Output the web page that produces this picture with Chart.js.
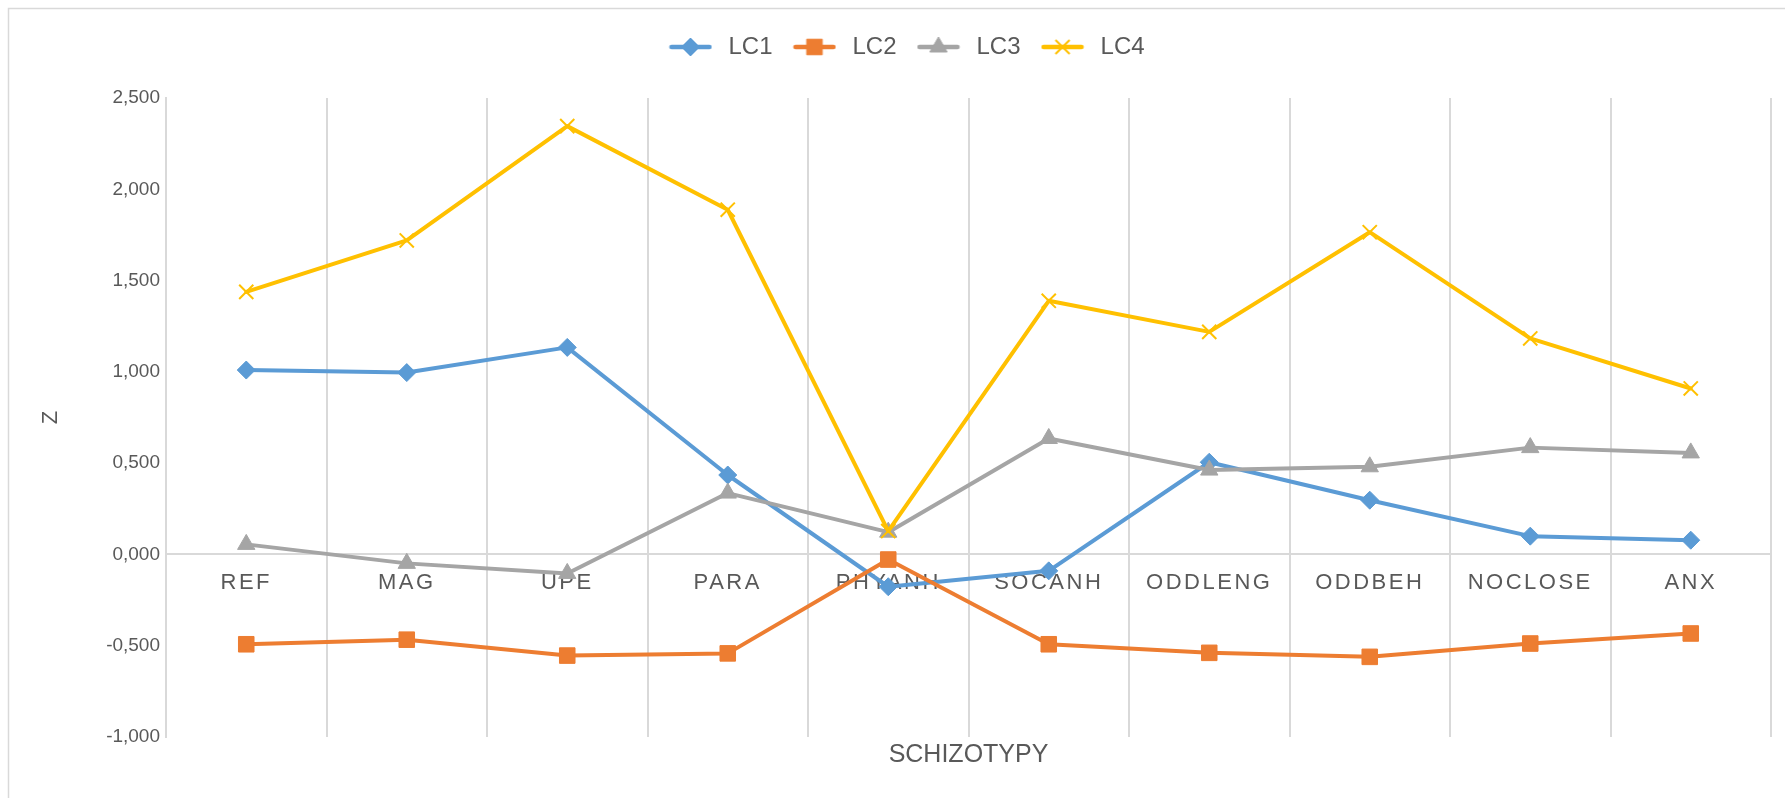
<!DOCTYPE html>
<html><head><meta charset="utf-8">
<script src="https://cdn.jsdelivr.net/npm/chart.js@4/dist/chart.umd.min.js"></script>
<style>html,body{margin:0;padding:0;background:#fff}#wrap{width:1785px;height:798px;position:relative}</style>
</head><body><div id="wrap"><canvas id="c" width="1785" height="798"></canvas></div>
<script>
const categories = ['REF','MAG','UPE','PARA','PHYANH','SOCANH','ODDLENG','ODDBEH','NOCLOSE','ANX'];
const seriesNames = ['LC1','LC2','LC3','LC4'];
const lc1 = [1.010, 0.996, 1.134, 0.435, -0.177, -0.090, 0.505, 0.297, 0.100, 0.078];
const lc2 = [-0.492, -0.467, -0.554, -0.542, -0.028, -0.492, -0.539, -0.561, -0.488, -0.433];
const lc3 = [0.055, -0.049, -0.104, 0.336, 0.122, 0.635, 0.462, 0.480, 0.585, 0.556];
const lc4 = [1.438, 1.720, 2.346, 1.888, 0.128, 1.389, 1.219, 1.765, 1.183, 0.909];
const yTickLabels = ['-1,000','-0,500','0,000','0,500','1,000','1,500','2,000','2,500'];
const xTitle = 'SCHIZOTYPY';
const yTitle = 'Z';

const colors = ['#5B9BD5','#ED7D31','#A5A5A5','#FFC000'];
const styles = ['rectRot','rect','triangle','crossRot'];
const radii = [9, 11, 10, 10];
const pbw = [1, 1, 1, 2];
const FONT = "'Liberation Sans', Arial, sans-serif";
const TXT = '#595959';
const GRID = '#d9d9d9';

function drawMarker(ctx, style, r, x, y) {
  ctx.beginPath();
  if (style === 'rectRot') {
    ctx.moveTo(x, y - r); ctx.lineTo(x + r, y); ctx.lineTo(x, y + r); ctx.lineTo(x - r, y); ctx.closePath();
    ctx.fill(); ctx.stroke();
  } else if (style === 'rect') {
    const s = r * Math.SQRT1_2; ctx.rect(x - s, y - s, 2 * s, 2 * s); ctx.fill(); ctx.stroke();
  } else if (style === 'triangle') {
    ctx.moveTo(x, y - r);
    ctx.lineTo(x + r * Math.cos(Math.PI / 6), y + r / 2);
    ctx.lineTo(x - r * Math.cos(Math.PI / 6), y + r / 2);
    ctx.closePath(); ctx.fill(); ctx.stroke();
  } else {
    const s = r * Math.SQRT1_2;
    ctx.moveTo(x - s, y - s); ctx.lineTo(x + s, y + s);
    ctx.moveTo(x + s, y - s); ctx.lineTo(x - s, y + s);
    ctx.stroke();
  }
}
function legendImage(i) {
  const cv = document.createElement('canvas');
  cv.width = 44; cv.height = 24;
  const c = cv.getContext('2d');
  c.strokeStyle = colors[i]; c.fillStyle = colors[i];
  c.lineWidth = 4.5; c.lineCap = 'round';
  c.beginPath(); c.moveTo(3, 12); c.lineTo(41, 12); c.stroke();
  c.lineWidth = pbw[i]; c.lineCap = 'butt';
  drawMarker(c, styles[i], radii[i], 22, 12);
  return cv;
}

const seriesData = [lc1, lc2, lc3, lc4];
const datasets = seriesNames.map((n, i) => ({
  label: n,
  data: seriesData[i],
  borderColor: colors[i],
  backgroundColor: colors[i],
  borderWidth: 4,
  borderJoinStyle: 'round',
  borderCapStyle: 'round',
  tension: 0,
  pointStyle: styles[i],
  pointRadius: radii[i],
  pointHoverRadius: radii[i],
  pointBorderWidth: pbw[i],
  pointBackgroundColor: colors[i],
  pointBorderColor: colors[i],
  order: 4 - i
}));
const legendImgs = seriesNames.map((n, i) => legendImage(i));

const framePlugin = {
  id: 'frame',
  beforeDraw(chart) {
    const ctx = chart.ctx;
    ctx.save();
    ctx.fillStyle = '#fff';
    ctx.fillRect(0, 0, chart.width, chart.height);
    ctx.strokeStyle = GRID; ctx.lineWidth = 1.5;
    ctx.strokeRect(8.5, 8.5, chart.width + 20, chart.height + 20);
    ctx.restore();
    const xs = chart.scales.x;
    if (xs && !xs._lsPatched) {
      const orig = xs.drawLabels;
      xs.drawLabels = function (ca) {
        const c = this.ctx; const prev = c.letterSpacing;
        c.letterSpacing = '2.5px';
        orig.call(this, ca);
        c.letterSpacing = prev || '0px';
      };
      xs._lsPatched = true;
    }
  },
  beforeLayout(chart) {
    const lg = chart.legend;
    if (lg && !lg._patched) {
      const f = lg.fit;
      lg.fit = function () { f.call(this); this.height = 79; };
      lg._patched = true;
    }
  }
};

new Chart(document.getElementById('c'), {
  type: 'line',
  data: { labels: categories, datasets },
  plugins: [framePlugin],
  options: {
    responsive: false,
    animation: false,
    events: [],
    layout: { padding: { left: 38, right: 14, top: 19, bottom: 0 } },
    plugins: {
      tooltip: { enabled: false },
      legend: {
        position: 'top',
        align: 'center',
        labels: {
          usePointStyle: true,
          pointStyleWidth: 52,
          padding: 16,
          color: TXT,
          font: { family: FONT, size: 24 },
          generateLabels: (chart) => seriesNames.map((n, i) => ({
            text: n, fontColor: TXT, pointStyle: legendImgs[i],
            fillStyle: colors[i], strokeStyle: colors[i], lineWidth: 0,
            hidden: false, datasetIndex: i
          }))
        }
      },
      title: {
        display: true,
        text: xTitle,
        position: 'bottom',
        fullSize: false,
        color: TXT,
        font: { family: FONT, size: 25, weight: 'normal', lineHeight: 1.2 },
        padding: { top: 3, bottom: 28 }
      }
    },
    scales: {
      x: {
        position: { y: 0 },
        offset: true,
        grid: { display: true, offset: true, color: GRID, lineWidth: 2, drawTicks: false },
        border: { display: true, color: GRID, width: 2 },
        ticks: { color: TXT, font: { family: FONT, size: 22 }, padding: 15, maxRotation: 0, autoSkip: false },
        afterFit: (s) => { s.height = 0; }
      },
      y: {
        min: -1, max: 2.5,
        ticks: { stepSize: 0.5, color: TXT, font: { family: FONT, size: 19 }, padding: 6,
          callback: (v, i) => yTickLabels[i] },
        grid: { display: false, drawTicks: false },
        border: { display: true, color: GRID, width: 2 },
        title: { display: true, text: yTitle, color: TXT, font: { family: FONT, size: 22 }, padding: { top: 0, bottom: 0 } },
        afterFit: (s) => { s.width = 128; }
      }
    }
  }
});
</script></body></html>
